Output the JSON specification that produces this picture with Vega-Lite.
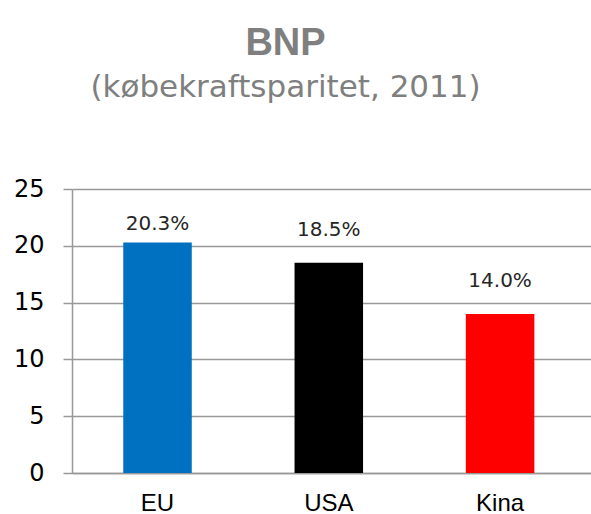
{
  "$schema": "https://vega.github.io/schema/vega-lite/v6.json",
  "width": 519,
  "height": 284,
  "autosize": {"type": "none"},
  "padding": {"left": 72, "top": 189, "right": 0, "bottom": 41},
  "background": "white",
  "title": {
    "text": "BNP",
    "subtitle": "(købekraftsparitet, 2011)",
    "anchor": "middle",
    "dx": -46,
    "font": "Liberation Sans",
    "fontSize": 38,
    "fontWeight": "bold",
    "color": "#7f7f7f",
    "subtitleFont": "DejaVu Sans",
    "subtitleFontSize": 31,
    "subtitleColor": "#7f7f7f",
    "subtitlePadding": 10,
    "offset": 74
  },
  "data": {
    "values": [
      {"land": "EU", "andel": 20.3, "etikett": "20.3%"},
      {"land": "USA", "andel": 18.5, "etikett": "18.5%"},
      {"land": "Kina", "andel": 14.0, "etikett": "14.0%"}
    ]
  },
  "encoding": {
    "x": {
      "field": "land",
      "type": "nominal",
      "sort": null,
      "scale": {"paddingInner": 0.6, "paddingOuter": 0.315, "align": 0.475},
      "axis": {
        "title": null,
        "ticks": false,
        "labelAngle": 0,
        "labelFont": "Liberation Sans",
        "labelFontSize": 24,
        "labelColor": "#000000",
        "labelPadding": 18,
        "domainColor": "#999999",
        "domainWidth": 1.5
      }
    },
    "y": {
      "field": "andel",
      "type": "quantitative",
      "scale": {"domain": [0, 25], "nice": false},
      "axis": {
        "title": null,
        "values": [0, 5, 10, 15, 20, 25],
        "grid": true,
        "gridColor": "#999999",
        "gridWidth": 1.5,
        "domainColor": "#999999",
        "domainWidth": 1.5,
        "tickColor": "#999999",
        "tickWidth": 1.5,
        "tickSize": 9,
        "labelFont": "DejaVu Sans",
        "labelFontSize": 24,
        "labelColor": "#000000",
        "labelPadding": 19
      }
    }
  },
  "layer": [
    {
      "mark": {"type": "bar"},
      "encoding": {
        "color": {
          "field": "land",
          "type": "nominal",
          "scale": {"domain": ["EU", "USA", "Kina"], "range": ["#0070C0", "#000000", "#FF0000"]},
          "legend": null
        }
      }
    },
    {
      "transform": [{"filter": "datum.land == 'EU'"}],
      "mark": {"type": "text", "baseline": "alphabetic", "dy": -12, "font": "DejaVu Sans", "fontSize": 20, "color": "#262626"},
      "encoding": {"text": {"field": "etikett"}}
    },
    {
      "transform": [{"filter": "datum.land != 'EU'"}],
      "mark": {"type": "text", "baseline": "alphabetic", "dy": -27, "font": "DejaVu Sans", "fontSize": 20, "color": "#262626"},
      "encoding": {"text": {"field": "etikett"}}
    }
  ]
}
